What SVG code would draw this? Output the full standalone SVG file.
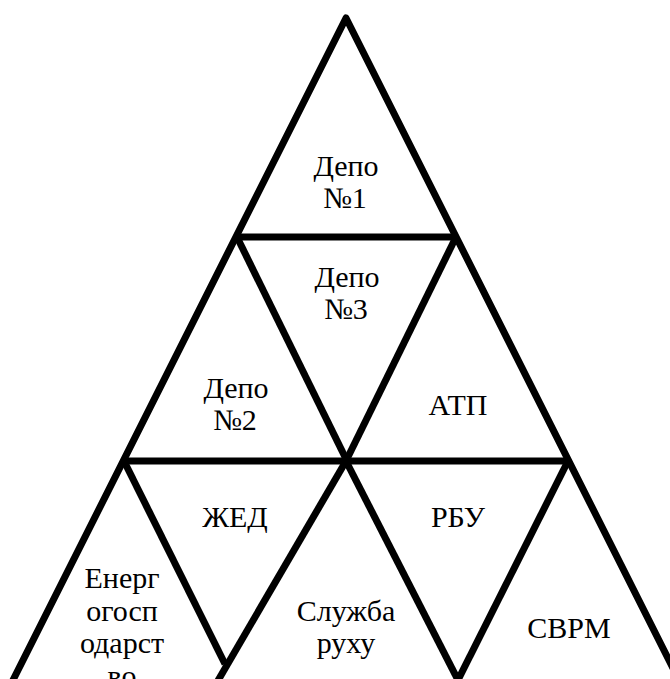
<svg xmlns="http://www.w3.org/2000/svg" width="670" height="679" viewBox="0 0 670 679">
<style>
.ln{stroke:#000;stroke-width:7;fill:none;stroke-linecap:butt;stroke-linejoin:round}
.t{font-family:'Liberation Serif','DejaVu Serif','Times New Roman',serif;font-size:30px;fill:#000;text-anchor:middle}
</style>
<rect width="670" height="679" fill="#fff"/>
<g id="connectors">
<path class="ln" d="M3,700 L346,18 L689,700"/>
<line class="ln" x1="235" y1="237" x2="457" y2="237"/>
<line class="ln" x1="122" y1="461" x2="570" y2="461"/>
<line class="ln" x1="237" y1="237" x2="347" y2="461"/>
<line class="ln" x1="456" y1="237" x2="346" y2="461"/>
<line class="ln" x1="124" y1="461" x2="225" y2="664"/>
<line class="ln" x1="346" y1="461" x2="216" y2="684"/>
<line class="ln" x1="346" y1="461" x2="460" y2="684"/>
<line class="ln" x1="568" y1="461" x2="456" y2="684"/>
</g>
<g id="n1"><text class="t" x="346" y="176" font-family="Liberation Serif, serif">Депо</text><text class="t" x="345" y="208" font-family="Liberation Serif, serif">№1</text></g>
<g id="n3"><text class="t" x="347" y="287">Депо</text><text class="t" x="346" y="319">№3</text></g>
<g id="n2"><text class="t" x="236" y="398">Депо</text><text class="t" x="235" y="430">№2</text></g>
<g id="atp"><text class="t" x="458" y="415">АТП</text></g>
<g id="zhed"><text class="t" x="235" y="527">ЖЕД</text></g>
<g id="rbu"><text class="t" x="458" y="527">РБУ</text></g>
<g id="energ"><text class="t" x="122" y="588">Енерг</text><text class="t" x="122" y="620.5">огосп</text><text class="t" x="122" y="653">одарст</text><text class="t" x="122" y="685.5">во</text></g>
<g id="sluzhba"><text class="t" x="346" y="621">Служба</text><text class="t" x="346" y="653">руху</text></g>
<g id="svrm"><text class="t" x="569" y="638">СВРМ</text></g>
</svg>
